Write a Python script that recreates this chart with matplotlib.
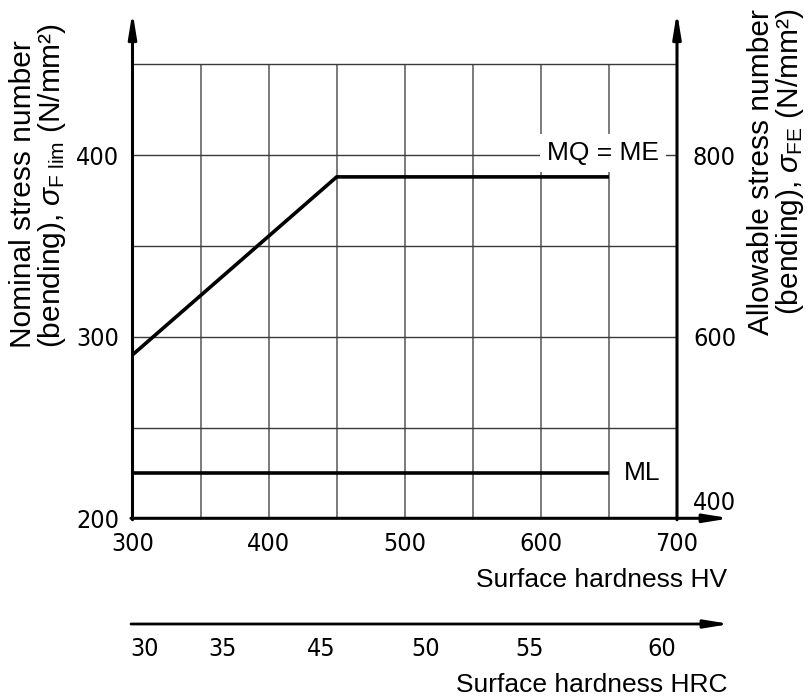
import matplotlib
matplotlib.use("Agg")
import matplotlib.pyplot as plt
from matplotlib import font_manager
from matplotlib.transforms import ScaledTranslation

# ---- data ----
hv_mq = [300, 450, 650]
sigma_mq = [290, 388, 388]
hv_ml = [300, 650]
sigma_ml = [225, 225]

x_ticks = [300, 400, 500, 600, 700]
y_ticks = [200, 300, 400]
right_ticks = [400, 600, 800]
x_grid = [350, 400, 450, 500, 550, 600, 650]
y_grid = [250, 300, 350, 400, 450]
hrc_labels = ["30", "35", "45", "50", "55", "60"]
hrc_pos_hv = [309, 366, 439, 515, 592, 689]

# ---- narrow font for tick numbers, if one is installed ----
entries = font_manager.fontManager.ttflist
names = {f.name for f in entries}
tick_kw = dict(fontfamily="Liberation Sans", fontsize=17.5)
if "Liberation Sans Narrow" in names:
    tick_kw = dict(fontfamily="Liberation Sans Narrow", fontsize=18.5)
elif any(f.name == "DejaVu Sans" and str(f.stretch) in ("condensed", "semi-condensed", "75", "87")
         for f in entries):
    tick_kw = dict(fontfamily="DejaVu Sans", fontstretch="condensed", fontsize=18)

text_font = "Liberation Sans"
plt.rcParams["font.family"] = [text_font, "DejaVu Sans"]
plt.rcParams["mathtext.fontset"] = "custom"
plt.rcParams["mathtext.rm"] = "Liberation Sans"
plt.rcParams["mathtext.it"] = "Liberation Sans:italic"
plt.rcParams["mathtext.bf"] = "Liberation Sans:bold"

W, H = 809, 698
fig = plt.figure(figsize=(W / 100, H / 100), dpi=100)

x0, x1 = 132.5, 677.0
y0, y1 = 518.3, 64.3
ax = fig.add_axes([x0 / W, 1 - y0 / H, (x1 - x0) / W, (y0 - y1) / H])
ax.set_xlim(300, 700)
ax.set_ylim(200, 450)
for s in ax.spines.values():
    s.set_visible(False)

# grid
ax.vlines(x_grid, 200, 450, colors="#7a7a7a", lw=1.4, zorder=1, clip_on=False)
ax.hlines(y_grid, 300, 700, colors="#3a3a3a", lw=1.0, zorder=1, clip_on=False)

# axes arrows
arrow_style = "-|>,head_length=1.05,head_width=0.17"
arrow_kw = dict(arrowstyle=arrow_style, lw=2.2, color="black",
                mutation_scale=14, shrinkA=0, shrinkB=0)
ax.annotate("", xy=(300, 479), xytext=(300, 199.2), arrowprops=arrow_kw,
            annotation_clip=False, zorder=5)
ax.annotate("", xy=(700, 479), xytext=(700, 199.2), arrowprops=arrow_kw,
            annotation_clip=False, zorder=5)
ax.annotate("", xy=(739, 200), xytext=(298.9, 200), arrowprops=arrow_kw,
            annotation_clip=False, zorder=5)

# curves
ax.plot(hv_mq, sigma_mq, color="black", lw=2.6, solid_capstyle="butt",
        solid_joinstyle="miter", zorder=4, clip_on=False)
ax.plot(hv_ml, sigma_ml, color="black", lw=2.6, solid_capstyle="butt",
        zorder=4, clip_on=False)

ax.text(645.7, 401, "MQ = ME", fontsize=19, ha="center", va="center",
        bbox=dict(facecolor="white", edgecolor="none", pad=5), zorder=3)
ax.text(674.5, 225, "ML", fontsize=19, ha="center", va="center", zorder=3)

# ticks
ax.set_xticks(x_ticks)
ax.set_xticklabels([str(v) for v in x_ticks])
ax.set_yticks(y_ticks)
ax.set_yticklabels([str(v) for v in y_ticks])
ax.tick_params(axis="x", length=0, pad=10)
ax.tick_params(axis="y", length=0, pad=9.5)
for lab in ax.get_xticklabels() + ax.get_yticklabels():
    lab.set(**tick_kw)

ax2 = ax.twinx()
ax2.set_ylim(400, 900)
for s in ax2.spines.values():
    s.set_visible(False)
ax2.set_yticks(right_ticks)
ax2.set_yticklabels([str(v) for v in right_ticks])
ax2.tick_params(axis="y", length=0, pad=11.5)
for lab in ax2.get_yticklabels():
    lab.set(**tick_kw)
lab0 = ax2.get_yticklabels()[0]
lab0.set_transform(lab0.get_transform() + ScaledTranslation(0, 13 / 72, fig.dpi_scale_trans))

# HRC axis
yh = 624.0
axh = fig.add_axes([x0 / W, 1 - yh / H, (x1 - x0) / W, 0.001])
axh.set_xlim(300, 700)
axh.set_ylim(0, 1)
axh.patch.set_visible(False)
for s in axh.spines.values():
    s.set_visible(False)
axh.set_yticks([])
axh.set_xticks(hrc_pos_hv)
axh.set_xticklabels(hrc_labels)
axh.tick_params(axis="x", length=0, pad=9.5)
for lab in axh.get_xticklabels():
    lab.set(**tick_kw)
axh.annotate("", xy=(739, 0), xytext=(298.9, 0), xycoords=axh.get_xaxis_transform(),
             textcoords=axh.get_xaxis_transform(),
             arrowprops=dict(arrowstyle=arrow_style, lw=2.0, color="black",
                             mutation_scale=14, shrinkA=0, shrinkB=0),
             annotation_clip=False)

# axis titles
fig.text(727 / W, 1 - 587 / H, "Surface hardness HV", fontsize=19,
         ha="right", va="baseline")
fig.text(727 / W, 1 - 692 / H, "Surface hardness HRC", fontsize=19,
         ha="right", va="baseline")

# two-line rotated axis titles (anchor = baseline of the second line)
ylab_kw = dict(fontsize=21.5, rotation=90, rotation_mode="anchor", va="baseline",
               linespacing=0.95)
fig.text(61 / W, 1 - 348 / H,
         "Nominal stress number\n" + r"(bending), $\sigma_{\mathrm{F\ lim}}$ (N/mm²)",
         ha="left", multialignment="left", **ylab_kw)
fig.text(799 / W, 1 - 9 / H,
         "Allowable stress number\n" + r"(bending), $\sigma_{\mathrm{FE}}$ (N/mm²)",
         ha="right", multialignment="right", **ylab_kw)

fig.savefig("out.png", dpi=100)
